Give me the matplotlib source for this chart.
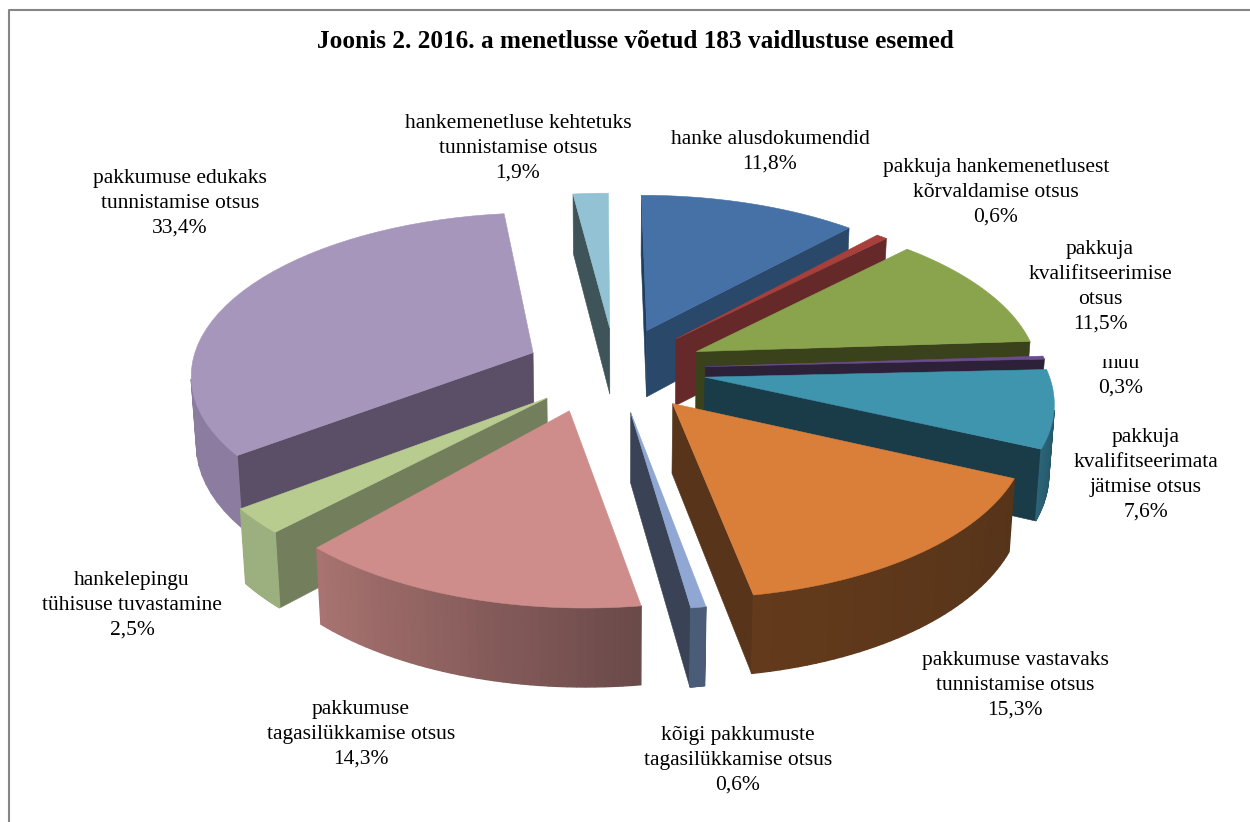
import numpy as np
from matplotlib import pyplot as plt
from matplotlib.colors import to_rgb
from matplotlib.patches import Polygon, Rectangle

plt.rcParams["font.family"] = ["Liberation Serif", "DejaVu Serif"]

title = "Joonis 2. 2016. a menetlusse võetud 183 vaidlustuse esemed"
names = ["hanke alusdokumendid",
         "pakkuja hankemenetlusest\nkõrvaldamise otsus",
         "pakkuja\nkvalifitseerimise\notsus",
         "muu",
         "pakkuja\nkvalifitseerimata\njätmise otsus",
         "pakkumuse vastavaks\ntunnistamise otsus",
         "kõigi pakkumuste\ntagasilükkamise otsus",
         "pakkumuse\ntagasilükkamise otsus",
         "hankelepingu\ntühisuse tuvastamine",
         "pakkumuse edukaks\ntunnistamise otsus",
         "hankemenetluse kehtetuks\ntunnistamise otsus"]
shares = [11.8, 0.6, 11.5, 0.3, 7.6, 15.3, 0.6, 14.3, 2.5, 33.4, 1.9]

# label centres in image pixels
label_x = [770, 996, 1100, 1121, 1146, 1015, 738, 361, 132, 180, 518]
label_y = [150, 191, 285, 374, 473, 684, 759, 733, 604, 202, 147]

top_col = ["#4571A6", "#A73F3B", "#89A44D", "#6C4C8F", "#3F94AE", "#D97F3A",
           "#8FA7D2", "#CE8D8B", "#B9CC90", "#A696BC", "#92C2D4"]
start_col = ["#1E3E60", "#6A2A2A", "#3A4519", "#2E2340", "#1A3C48", "#59341A",
             "#3A4458", "#6B4A4A", "#737F5C", "#5A4F66", "#3F5459"]
end_col = ["#2A4869", "#65292A", "#3A421C", "#2C2138", "#1A3C49", "#58341A",
           "#3A4356", "#5F4444", "#737F5C", "#5A4F66", "#3F5459"]
rim_a = ["#3A5F8C", "#7C3230", "#4A5A28", "#3A2A50", "#1C4757", "#56341A",
         "#4B5C78", "#6B4A4A", "#9CAF7E", "#8C7DA0", "#3F5459"]
rim_b = ["#3A5F8C", "#7C3230", "#4A5A28", "#3A2A50", "#2B6377", "#633A1B",
         "#4B5C78", "#A87370", "#9CAF7E", "#8C7DA0", "#3F5459"]

# view settings, fitted by eye
cx, cy = 615.5, 369
Fx, Dx, shear = 2740, 8.0, 2.0
Fy, Dy = 1289, 8.0
H, Dz, sink = 620, 9.0, 0.1
explode = 0.264
# the pink slice's tip sits further left than the model puts it
tip_shift = [0, 0, 0, 0, 0, 0, 0, -18, 0, 0, 0]


def project(x, y, z):
    sx = cx + Fx * x / (Dx + y + sink * z) - shear * y
    sy = cy - Fy * y / (Dy + y) + H * z / (Dz + y + sink * z)
    return sx, sy


def area(pts):
    p = np.array(pts)
    q = np.roll(p, -1, axis=0)
    return 0.5 * np.sum(p[:, 0] * q[:, 1] - q[:, 0] * p[:, 1])


def mix(a, b, t):
    a = np.array(to_rgb(a))
    b = np.array(to_rgb(b))
    return tuple(a + (b - a) * t)


def face(ax, pts, col, lw=0.4):
    ax.add_patch(Polygon(pts, closed=True, facecolor=col, edgecolor=col, lw=lw))


fig = plt.figure(figsize=(12.5, 8.22), dpi=100)
ax = fig.add_axes([0, 0, 1, 1])
ax.set_xlim(0, 1250)
ax.set_ylim(822, 0)
ax.axis("off")

# chart frame
ax.plot([1250, 9, 9], [10, 10, 822], color="#868686", lw=1.5)

fracs = np.array(shares) / sum(shares)
edges = np.concatenate([[0], np.cumsum(fracs)]) * 2 * np.pi
mids = (edges[:-1] + edges[1:]) / 2

# far slices first so nearer ones cover them
for i in np.argsort(-np.cos(mids)):
    ax0 = explode * np.sin(mids[i])
    ay0 = explode * np.cos(mids[i])
    th = np.linspace(edges[i], edges[i + 1], 40)
    rx = ax0 + np.sin(th)
    ry = ay0 + np.cos(th)

    apex_t = project(ax0, ay0, 0)
    apex_b = project(ax0, ay0, 1)
    apex_t = (apex_t[0] + tip_shift[i], apex_t[1])
    apex_b = (apex_b[0] + tip_shift[i], apex_b[1])
    rim_t = [project(a, b, 0) for a, b in zip(rx, ry)]
    rim_low = [project(a, b, 1) for a, b in zip(rx, ry)]

    start_wall = [apex_t, rim_t[0], rim_low[0], apex_b]
    end_wall = [apex_t, rim_t[-1], rim_low[-1], apex_b]
    if area(start_wall) < 0:
        face(ax, start_wall, start_col[i])
    if area(end_wall) > 0:
        face(ax, end_wall, end_col[i])
    for k in range(len(th) - 1):
        quad = [rim_t[k], rim_t[k + 1], rim_low[k + 1], rim_low[k]]
        if area(quad) < 0:
            face(ax, quad, mix(rim_a[i], rim_b[i], k / (len(th) - 2)), lw=1.0)
    face(ax, [apex_t] + rim_t, top_col[i])

ax.text(635, 41, title, ha="center", va="center", fontsize=18.2, fontweight="bold", color="black")

# one text per line, 25 px apart
for n, v, x, y in zip(names, shares, label_x, label_y):
    lines = n.split("\n") + [f"{v:.1f}".replace(".", ",") + "%"]
    for k, line in enumerate(lines):
        ax.text(x, y + 6 + (k - (len(lines) - 1) / 2) * 25, line, ha="center", va="baseline",
                fontsize=15.5, color="black")

# the top of the "muu" label is cut off in the original
ax.add_patch(Rectangle((1095, 345), 55, 14, facecolor="white", edgecolor="none", zorder=5))

fig.savefig("out.png", dpi=100)
